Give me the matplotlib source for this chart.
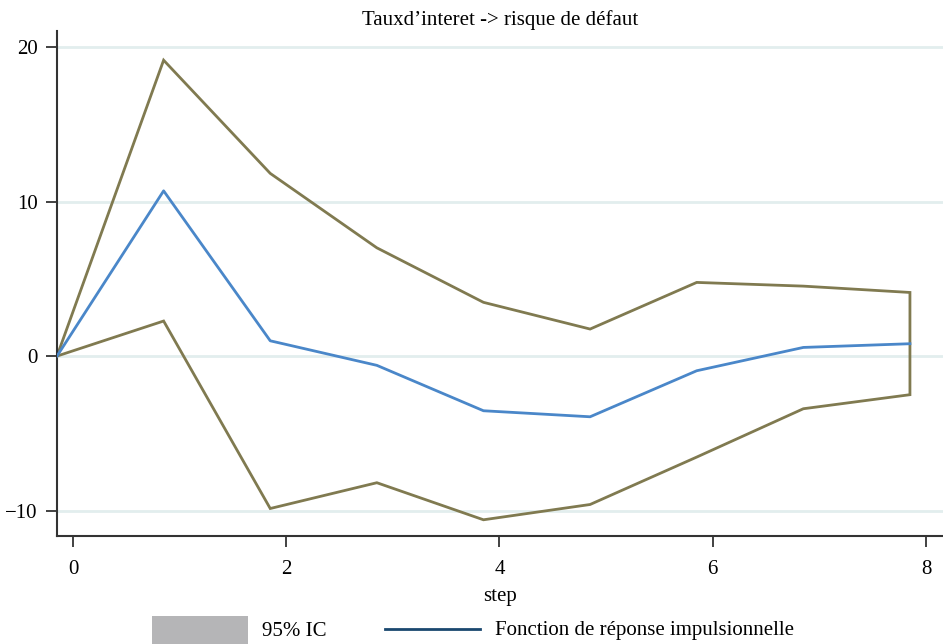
import matplotlib
matplotlib.use("Agg")
import matplotlib.pyplot as plt
from matplotlib.patches import Rectangle, Polygon
from matplotlib.lines import Line2D

plt.rcParams["font.family"] = ["Liberation Serif", "DejaVu Serif"]

# Impulse response: interest rate shock -> default risk
step = [-0.15, 0.85, 1.85, 2.85, 3.85, 4.85, 5.85, 6.85, 7.85]
irf = [0.0, 10.70, 0.99, -0.60, -3.54, -3.93, -0.95, 0.56, 0.80]
ci_upper = [0.0, 19.16, 11.83, 7.01, 3.48, 1.75, 4.77, 4.53, 4.12]
ci_lower = [0.0, 2.27, -9.87, -8.20, -10.60, -9.61, -6.54, -3.41, -2.50]

x_ticks = [0, 2, 4, 6, 8]
y_ticks = [-10, 0, 10, 20]

title = "Tauxd\u2019interet -> risque de défaut"
x_label = "step"
legend_ci = "95% IC"
legend_irf = "Fonction de réponse impulsionnelle"

ci_color = "#807a50"
irf_color = "#4a87c9"
legend_line_color = "#1a476f"
grid_color = "#e2eeee"
axis_color = "#333333"
fs = 15

fig = plt.figure(figsize=(9.43, 6.44), dpi=100)
ax = fig.add_axes([57 / 943, 1 - 536 / 644, 1 - 57 / 943, (536 - 31) / 644])

# grid
for yv in y_ticks:
    ax.axhline(yv, color=grid_color, lw=2.0, zorder=0)

# confidence band outline (closed polygon, no fill)
band_pts = list(zip(step, ci_upper)) + list(zip(step[::-1], ci_lower[::-1]))
ax.add_patch(Polygon(band_pts, closed=True, fill=False, edgecolor=ci_color,
                     lw=2.0, joinstyle="miter", zorder=2))

ax.plot(step, irf, color=irf_color, lw=2.0, zorder=3)

ax.set_xlim(step[0], 8.16)
ax.set_ylim(-11.65, 21.05)
ax.set_xticks(x_ticks)
ax.set_yticks(y_ticks)
ax.set_yticklabels(["\u221210", "0", "10", "20"])

for side in ("top", "right"):
    ax.spines[side].set_visible(False)
for side in ("left", "bottom"):
    ax.spines[side].set_color(axis_color)
    ax.spines[side].set_linewidth(1.5)
ax.tick_params(axis="both", colors=axis_color, labelcolor="black",
               length=8, width=1.3, labelsize=fs)
ax.tick_params(axis="y", pad=6)
ax.tick_params(axis="x", pad=9)
ax.set_xlabel(x_label, fontsize=fs, labelpad=6)
ax.set_title(title, fontsize=fs, pad=4)

# legend below the plot
fig.add_artist(Rectangle((152 / 943, -0.02), 96 / 943, (644 - 616) / 644 + 0.02,
                         transform=fig.transFigure, facecolor="#b5b5b7",
                         edgecolor="none"))
fig.text(262 / 943, 1 - 631 / 644, legend_ci, fontsize=fs, va="center")
fig.add_artist(Line2D([385 / 943, 480 / 943], [1 - 629 / 644] * 2,
                      transform=fig.transFigure, color=legend_line_color, lw=2.0))
fig.text(495 / 943, 1 - 631 / 644, legend_irf, fontsize=fs, va="center")

fig.savefig("out.png", dpi=100)
